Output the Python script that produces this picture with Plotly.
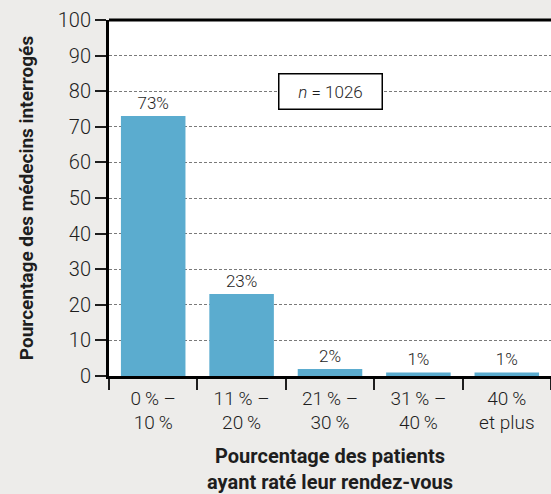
import plotly.graph_objects as go

categories = ["0\u2009% –<br>10\u2009%", "11\u2009% –<br>20\u2009%", "21\u2009% –<br>30\u2009%", "31\u2009% –<br>40\u2009%", "40\u2009%<br>et plus"]
values = [73, 23, 2, 1, 1]
bar_labels = ["73%", "23%", "2%", "1%", "1%"]
y_ticks = [0, 10, 20, 30, 40, 50, 60, 70, 80, 90, 100]

FONT = "Roboto, sans-serif"
BG = "#EDECEA"
BAR = "#5BACCF"
INK = "#1E1E1E"

fig = go.Figure()
fig.add_trace(go.Bar(
    x=categories, y=values, text=bar_labels, textposition="outside",
    textfont=dict(family=FONT, size=17, color=INK, weight=300),
    marker=dict(color=BAR, line=dict(width=0)),
    width=0.73, cliponaxis=False,
))

fig.update_layout(
    width=551, height=494,
    margin=dict(l=109, r=0, t=20, b=118, autoexpand=False),
    paper_bgcolor=BG, plot_bgcolor="white",
    showlegend=False,
    font=dict(family=FONT, color=INK),
    xaxis=dict(
        type="category", tickson="boundaries", ticks="outside", ticklen=11,
        tickwidth=2, tickcolor=INK, showgrid=False, automargin=False,
        showline=True, linewidth=2.5, linecolor="black",
        tickfont=dict(family=FONT, size=19, color=INK, weight=300),
        ticklabelstandoff=3,
        title=dict(text="<b>Pourcentage des patients<br>ayant raté leur rendez-vous</b>",
                   font=dict(family=FONT, size=20, color=INK), standoff=18),
        range=[-0.5, 4.5],
    ),
    yaxis=dict(
        range=[0, 100], tickvals=y_ticks, ticks="outside", ticklen=11,
        tickwidth=2, tickcolor=INK, automargin=False,
        showline=True, linewidth=3, linecolor="black",
        showgrid=True, gridcolor="#7a7a7a", griddash="3px,2px", gridwidth=1,
        zeroline=False,
        tickfont=dict(family=FONT, size=20, color=INK, weight=300),
        title=dict(text="<b>Pourcentage des médecins interrogés</b>",
                   font=dict(family=FONT, size=19, color=INK), standoff=20),
    ),
    shapes=[dict(type="line", xref="paper", yref="paper", x0=0, x1=1, y0=1, y1=1,
                 line=dict(color="black", width=3))],
    annotations=[dict(
        xref="paper", yref="y", x=0.5, y=80, text="<i>n</i> = 1026", showarrow=False,
        font=dict(family=FONT, size=17, color=INK, weight=300), bgcolor="white",
        bordercolor="black", borderwidth=1.5, borderpad=4, width=94, height=26,
    )],
)

fig.write_html("out.html", config={"displayModeBar": False},
               post_script="document.body.style.margin='0';")
